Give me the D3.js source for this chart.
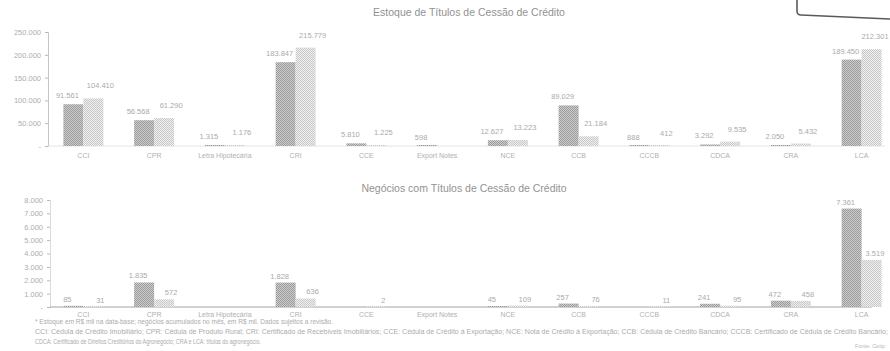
<!DOCTYPE html>
<html lang="pt-BR">
<head>
<meta charset="utf-8">
<script src="https://cdn.jsdelivr.net/npm/d3@7"></script>
<style>
  html, body { margin: 0; padding: 0; background: #fff; }
  svg { display: block; font-family: "Liberation Sans", Arial, sans-serif; }
</style>
</head>
<body>
<svg id="chart" width="890" height="351"></svg>
<script>
// Categorias (comuns aos dois gráficos)
const categories = ["CCI", "CPR", "Letra Hipotecária", "CRI", "CCE", "Export Notes",
                    "NCE", "CCB", "CCCB", "CDCA", "CRA", "LCA"];

// Estoque (R$ mil) – série anterior e série atual
const stockPrev = [91561, 56568, 1315, 183847, 5810, 598, 12627, 89029, 888, 3292, 2050, 189450];
const stockCurr = [104410, 61290, 1176, 215779, 1225, null, 13223, 21184, 412, 9535, 5432, 212301];

// Negócios (R$ mil) – série anterior e série atual
const dealsPrev = [85, 1835, null, 1828, null, null, 45, 257, null, 241, 472, 7361];
const dealsCurr = [31, 572, null, 636, 2, null, 109, 76, 11, 95, 458, 3519];

// Rótulos do eixo Y
const stockTicks = [0, 50000, 100000, 150000, 200000, 250000];
const dealsTicks = [0, 1000, 2000, 3000, 4000, 5000, 6000, 7000, 8000];

const titles = ["Estoque de Títulos de Cessão de Crédito", "Negócios com Títulos de Cessão de Crédito"];

const notes = [
  "* Estoque em R$ mil na data-base; negócios acumulados no mês, em R$ mil. Dados sujeitos a revisão.",
  "CCI: Cédula de Crédito Imobiliário; CPR: Cédula de Produto Rural; CRI: Certificado de Recebíveis Imobiliários; CCE: Cédula de Crédito à Exportação; NCE: Nota de Crédito à Exportação; CCB: Cédula de Crédito Bancário; CCCB: Certificado de Cédula de Crédito Bancário;",
  "CDCA: Certificado de Direitos Creditórios do Agronegócio; CRA e LCA: títulos do agronegócio."
];

const br = d3.formatLocale({ decimal: ",", thousands: ".", grouping: [3], currency: ["R$", ""] });
const fmt = br.format(",.0f");
const tickFmt = v => v === 0 ? "-" : fmt(v);

const svg = d3.select("#chart");

// Texturas pontilhadas das barras
const defs = svg.append("defs");
function stipple(id, a, b) {
  const p = defs.append("pattern").attr("id", id)
    .attr("width", 2).attr("height", 2).attr("patternUnits", "userSpaceOnUse");
  p.append("rect").attr("width", 2).attr("height", 2).attr("fill", b);
  p.append("rect").attr("width", 1).attr("height", 1).attr("fill", a);
  p.append("rect").attr("x", 1).attr("y", 1).attr("width", 1).attr("height", 1).attr("fill", a);
}
stipple("darkDots", "#9a9a9a", "#cdcdcd");
stipple("lightDots", "#c8c8c8", "#efefef");

const x = d3.scaleBand().domain(categories).range([48, 897])
  .paddingInner(0.435).paddingOuter(0.2175);
const barW = x.bandwidth() / 2;

function panel(cfg) {
  const g = svg.append("g");
  const y = d3.scaleLinear().domain([0, cfg.max]).range([cfg.y0, cfg.y1]);

  // Título
  g.append("text").attr("x", cfg.titleX).attr("y", cfg.titleY)
    .attr("text-anchor", "middle").attr("font-size", 10.5).attr("fill", "#929292")
    .text(cfg.title);

  // Eixo Y
  const ay = g.append("g").attr("transform", `translate(${cfg.axisX},0)`)
    .call(d3.axisLeft(y).tickValues(cfg.ticks).tickFormat(tickFmt).tickSizeOuter(0).tickSize(3).tickPadding(4));
  ay.select(".domain").attr("stroke", cfg.axisColor);
  ay.selectAll(".tick line").attr("stroke", "#b8b8b8");
  ay.selectAll(".tick text").attr("fill", "#adadad").attr("font-size", 7.5)
    .attr("font-family", "'Liberation Sans', Arial, sans-serif");

  // Linha de base
  g.append("line").attr("x1", cfg.axisX).attr("x2", cfg.baseEnd)
    .attr("y1", y(0)).attr("y2", y(0))
    .attr("stroke", cfg.baseColor).attr("stroke-width", 1);

  // Barras
  const series = [
    { vals: cfg.prev, fill: "url(#darkDots)", off: 0, dx: -6, dy: cfg.dyPrev },
    { vals: cfg.curr, fill: "url(#lightDots)", off: barW, dx: 7, dy: cfg.dyCurr }
  ];
  series.forEach(s => {
    const data = categories.map((c, i) => ({ c, v: s.vals[i] })).filter(d => d.v != null);
    g.selectAll(null).data(data).join("rect")
      .attr("x", d => x(d.c) + s.off)
      .attr("y", d => Math.min(y(d.v), y(0) - 1))
      .attr("width", barW)
      .attr("height", d => Math.max(1, y(0) - y(d.v)))
      .attr("fill", s.fill);
    g.selectAll(null).data(data).join("text")
      .attr("x", d => Math.min(x(d.c) + s.off + barW / 2 + s.dx, 875))
      .attr("y", d => y(d.v) + s.dy)
      .attr("text-anchor", "middle").attr("font-size", 7.5).attr("fill", "#aaaaaa")
      .text(d => fmt(d.v));
  });

  // Rótulos das categorias
  g.selectAll(null).data(categories).join("text")
    .attr("x", d => x(d) + x.bandwidth() / 2)
    .attr("y", cfg.labelY)
    .attr("text-anchor", "middle").attr("font-size", 7).attr("fill", "#b0b0b0")
    .text(d => d);
}

panel({
  title: titles[0], titleX: 469, titleY: 16,
  max: 250000, ticks: stockTicks, y0: 146, y1: 32, axisX: 48,
  prev: stockPrev, curr: stockCurr, dyPrev: -6, dyCurr: -10,
  labelY: 158, axisColor: "#c4c4c4", baseColor: "#e4e4e4", baseEnd: 885
});

panel({
  title: titles[1], titleX: 464, titleY: 192,
  max: 8000, ticks: dealsTicks, y0: 307, y1: 200, axisX: 50,
  prev: dealsPrev, curr: dealsCurr, dyPrev: -4, dyCurr: -4,
  labelY: 317, axisColor: "#dadada", baseColor: "#a2a2a2", baseEnd: 872
});

// Notas de rodapé
const noteWidths = [298, 853, 226];
notes.forEach((t, i) => {
  svg.append("text").attr("x", 35).attr("y", 324 + i * 10)
    .attr("font-size", 6.5).attr("fill", "#ababab")
    .attr("textLength", noteWidths[i]).attr("lengthAdjust", "spacingAndGlyphs")
    .text(t);
});

svg.append("text").attr("x", 885).attr("y", 348).attr("text-anchor", "end")
  .attr("font-size", 5.5).attr("fill", "#b8b8b8").text("Fonte: Cetip");

// Moldura no canto superior direito
svg.append("path")
  .attr("d", "M797,0 L797,11 Q797,15 801,15 L890,19")
  .attr("fill", "none").attr("stroke", "#5a5a5a").attr("stroke-width", 1.6);
</script>
</body>
</html>
